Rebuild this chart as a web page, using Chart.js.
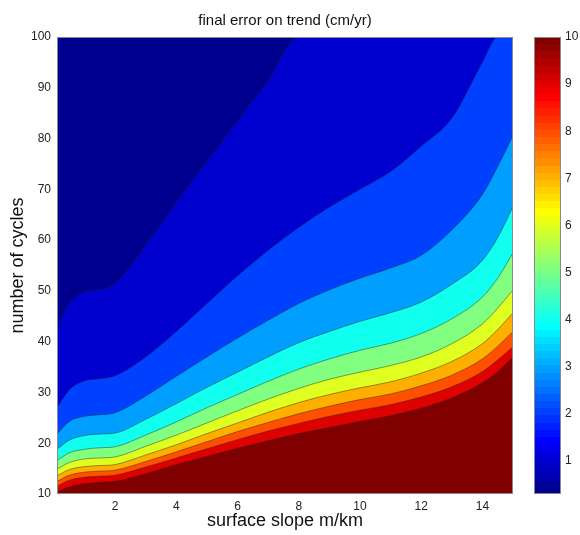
<!DOCTYPE html>
<html>
<head>
<meta charset="utf-8">
<script src="https://cdn.jsdelivr.net/npm/chart.js@4.4.1/dist/chart.umd.min.js"></script>
<style>
  html, body { margin: 0; padding: 0; background: #fff; }
  #wrap { position: relative; width: 580px; height: 535px; }
  #main { position: absolute; left: 0; top: 0; }
  #cbar { position: absolute; left: 520px; top: 0; }
</style>
</head>
<body>
<div id="wrap">
  <canvas id="main" width="580" height="535"></canvas>
  <canvas id="cbar" width="60" height="535"></canvas>
</div>
<script>
// ── Data ─────────────────────────────────────────────────────────────────────
// surface slope (m/km) columns where the contour lines were read
const slopeKm = [0.1, 0.5, 1, 1.5, 2, 3, 4, 5, 6, 7, 8, 9, 10, 11, 12, 13, 14, 14.5, 15];

// number of cycles at which the error crosses each level (cm/yr)
const level1  = [43, 47.5, 49.8, 50.2, 51.5, 59, 67.5, 75.5, 83.5, 91.5, 100, 100, 100, 100, 100, 100, 100, 100, 100];
const level2  = [27, 30.5, 32.3, 32.7, 33.3, 37, 42, 47.5, 53, 58, 62.5, 66.5, 70, 73.5, 78.5, 84, 95, 100, 100];
const level3  = [21.8, 24.3, 25.3, 25.6, 26, 29.3, 33.2, 37, 40.7, 44.2, 47.5, 50.2, 52.5, 54.5, 57, 62, 69, 74.5, 80.6];
const level4  = [18.8, 20.6, 21.5, 21.8, 22, 24.7, 27.8, 31, 34, 37, 39.8, 42, 44, 45.7, 47.8, 51.3, 56, 60.5, 66.6];
const level5  = [16.6, 18.1, 18.8, 19.1, 19.3, 21.6, 24.2, 27, 29.6, 32.2, 34.6, 36.6, 38.3, 39.7, 41.6, 44.5, 48.8, 52.5, 57.5];
const level6  = [14.9, 16.2, 16.9, 17.1, 17.3, 19.4, 21.6, 24, 26.4, 28.7, 30.8, 32.6, 34, 35.3, 37, 39.6, 43.5, 46.6, 50.2];
const level7  = [13.6, 14.8, 15.4, 15.6, 15.8, 17.7, 19.7, 21.9, 24, 26.1, 28, 29.6, 30.9, 32.1, 33.8, 36.1, 39.6, 42.4, 45.7];
const level8  = [12.5, 13.7, 14.3, 14.5, 14.7, 16.4, 18.3, 20.3, 22.3, 24.1, 25.8, 27.3, 28.6, 29.7, 31.3, 33.4, 36.6, 39.1, 42];
const level9  = [11.5, 12.7, 13.3, 13.5, 13.7, 15.3, 17.1, 18.9, 20.7, 22.4, 23.9, 25.3, 26.5, 27.6, 29.1, 31.1, 34.1, 36.4, 39];
const level10 = [10.4, 11.4, 12, 12.3, 12.5, 14, 15.8, 17.4, 19, 20.5, 21.9, 23.1, 24.3, 25.4, 26.9, 28.9, 31.9, 34.1, 37];

const contourLevels = [1, 2, 3, 4, 5, 6, 7, 8, 9, 10];
const contourCurves = [level1, level2, level3, level4, level5, level6, level7, level8, level9, level10];

// axis ranges / tick labels
const slopeRange = [0.1, 15];
const cycleRange = [10, 100];
const slopeTicks = [2, 4, 6, 8, 10, 12, 14];
const cycleTicks = [10, 20, 30, 40, 50, 60, 70, 80, 90, 100];
const cbarRange = [0.3, 10];
const cbarTicks = [1, 2, 3, 4, 5, 6, 7, 8, 9, 10];

// ── Colours (MATLAB jet, 64 steps) ───────────────────────────────────────────
function jet(t) {
    const clamp = v => Math.min(Math.max(v, 0), 1);
    const r = clamp(Math.min(4 * t - 1.5, -4 * t + 4.5));
    const g = clamp(Math.min(4 * t - 0.5, -4 * t + 3.5));
    const b = clamp(Math.min(4 * t + 0.5, -4 * t + 2.5));
    return `rgb(${Math.round(r * 255)}, ${Math.round(g * 255)}, ${Math.round(b * 255)})`;
}
function jet64(value) {
    const f = (value - cbarRange[0]) / (cbarRange[1] - cbarRange[0]);
    const idx = Math.min(63, Math.floor(f * 64));
    return jet((idx + 1) / 64);
}

Chart.defaults.font.family = "'Liberation Sans', Arial, sans-serif";
Chart.defaults.color = '#222';

// fills the plot background (lowest band) and draws the box around the axes
const axesBox = {
    id: 'axesBox',
    beforeDatasetsDraw(chart, args, opts) {
        const { ctx, chartArea: a } = chart;
        if (opts.background) {
            ctx.save();
            ctx.fillStyle = opts.background;
            ctx.fillRect(a.left, a.top, a.right - a.left, a.bottom - a.top);
            ctx.restore();
        }
    },
    afterDatasetsDraw(chart) {
        const { ctx, chartArea: a } = chart;
        ctx.save();
        ctx.strokeStyle = '#8a8a8a';
        ctx.lineWidth = 1;
        ctx.strokeRect(a.left + 0.5, a.top + 0.5, a.right - a.left - 1, a.bottom - a.top - 1);
        ctx.restore();
    }
};

// ── Contour plot ─────────────────────────────────────────────────────────────
// highest level first so that it is painted last (on top)
const datasets = contourLevels.map((lvl, i) => ({
    label: `${lvl} cm/yr`,
    data: slopeKm.map((x, j) => ({ x, y: contourCurves[i][j] })),
    fill: 'start',
    backgroundColor: jet64(lvl),
    borderColor: 'rgba(30, 30, 30, 0.55)',
    borderWidth: 0.8,
    pointRadius: 0,
    cubicInterpolationMode: 'monotone'
})).reverse();

new Chart(document.getElementById('main'), {
    type: 'line',
    data: { datasets },
    options: {
        responsive: false,
        animation: false,
        layout: { padding: { left: 0, right: 67, top: 0, bottom: 0 } },
        plugins: {
            legend: { display: false },
            tooltip: { enabled: false },
            axesBox: { background: jet64(cbarRange[0]) },
            title: {
                display: true,
                fullSize: false,
                text: 'final error on trend (cm/yr)',
                color: '#111',
                font: { size: 15, weight: 'normal' },
                padding: { top: 12, bottom: 7 }
            }
        },
        scales: {
            x: {
                type: 'linear',
                min: slopeRange[0],
                max: slopeRange[1],
                grid: { display: false, drawTicks: false },
                border: { display: false },
                ticks: { padding: 5, font: { size: 12 }, maxRotation: 0 },
                afterBuildTicks: s => { s.ticks = slopeTicks.map(v => ({ value: v })); },
                afterFit: s => { s.height = 41; },
                title: {
                    display: true,
                    text: 'surface slope m/km',
                    color: '#111',
                    font: { size: 18 },
                    padding: { top: 0, bottom: 3 }
                }
            },
            y: {
                type: 'linear',
                min: cycleRange[0],
                max: cycleRange[1],
                grid: { display: false, drawTicks: false },
                border: { display: false },
                ticks: { padding: 6, font: { size: 12 } },
                afterBuildTicks: s => { s.ticks = cycleTicks.map(v => ({ value: v })); },
                afterFit: s => { s.width = 57; },
                title: {
                    display: true,
                    text: 'number of cycles',
                    color: '#111',
                    font: { size: 18 },
                    padding: { top: 7, bottom: 0 }
                }
            }
        }
    },
    plugins: [axesBox]
});

// ── Colour bar ───────────────────────────────────────────────────────────────
function jetGradient(context) {
    const chart = context.chart;
    if (!chart.chartArea) return null;
    const y = chart.scales.y;
    const y0 = y.getPixelForValue(cbarRange[0]);
    const y1 = y.getPixelForValue(cbarRange[1]);
    const g = chart.ctx.createLinearGradient(0, y0, 0, y1);
    for (let i = 0; i < 64; i++) {
        const c = jet((i + 1) / 64);
        g.addColorStop(i / 64, c);
        g.addColorStop((i + 1) / 64, c);
    }
    return g;
}

new Chart(document.getElementById('cbar'), {
    type: 'bar',
    data: {
        labels: [''],
        datasets: [{
            data: [cbarRange],
            backgroundColor: jetGradient,
            borderWidth: 0,
            barPercentage: 1,
            categoryPercentage: 1
        }]
    },
    options: {
        responsive: false,
        animation: false,
        layout: { padding: { left: 14, top: 37, bottom: 41, right: 0 } },
        plugins: { legend: { display: false }, tooltip: { enabled: false } },
        scales: {
            x: { display: false },
            y: {
                position: 'right',
                min: cbarRange[0],
                max: cbarRange[1],
                grid: { display: false, drawTicks: false },
                border: { display: false },
                ticks: { padding: 4, font: { size: 12 } },
                afterBuildTicks: s => { s.ticks = cbarTicks.map(v => ({ value: v })); },
                afterFit: s => { s.width = 19; }
            }
        }
    },
    plugins: [axesBox]
});
</script>
</body>
</html>
